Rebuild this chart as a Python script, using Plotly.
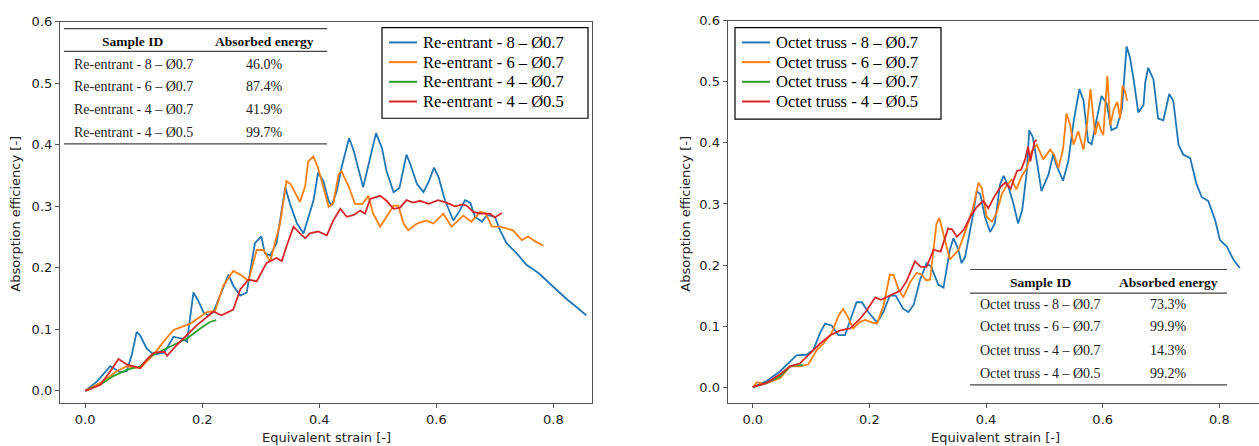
import plotly.graph_objects as go

W, H = 1259, 446

# ---- Re-entrant (left panel) ----
re8_x = [0, 0.02, 0.043, 0.06, 0.071, 0.08, 0.088, 0.094, 0.105, 0.117,
         0.135, 0.151, 0.165, 0.174, 0.185, 0.193, 0.202, 0.21, 0.219, 0.232,
         0.245, 0.253, 0.265, 0.276, 0.29, 0.301, 0.307, 0.316, 0.327, 0.342,
         0.35, 0.362, 0.373, 0.39, 0.398, 0.407, 0.416, 0.421, 0.43, 0.438,
         0.451, 0.459, 0.47, 0.475, 0.487, 0.497, 0.507, 0.515, 0.527, 0.537,
         0.549, 0.555, 0.567, 0.578, 0.587, 0.596, 0.604, 0.615, 0.629, 0.64,
         0.649, 0.658, 0.666, 0.678, 0.687, 0.70, 0.709, 0.72, 0.737, 0.754,
         0.774, 0.789, 0.806, 0.823, 0.84, 0.856]
re8_y = [0, 0.015, 0.04, 0.03, 0.032, 0.06, 0.096, 0.09, 0.069, 0.059,
         0.062, 0.088, 0.085, 0.08, 0.16, 0.147, 0.128, 0.123, 0.128, 0.16,
         0.189, 0.171, 0.155, 0.16, 0.24, 0.251, 0.224, 0.22, 0.24, 0.331,
         0.304, 0.272, 0.256, 0.309, 0.355, 0.341, 0.309, 0.301, 0.325, 0.363,
         0.411, 0.39, 0.347, 0.331, 0.379, 0.419, 0.395, 0.357, 0.323, 0.33,
         0.384, 0.37, 0.336, 0.323, 0.34, 0.363, 0.347, 0.309, 0.277, 0.293,
         0.31, 0.306, 0.283, 0.275, 0.286, 0.283, 0.261, 0.24, 0.224, 0.205,
         0.192, 0.179, 0.163, 0.149, 0.136, 0.123]

re6_x = [0, 0.026, 0.054, 0.071, 0.094, 0.117, 0.134, 0.151, 0.165, 0.179,
         0.196, 0.208, 0.222, 0.236, 0.253, 0.265, 0.279, 0.293, 0.305, 0.316,
         0.333, 0.344, 0.351, 0.367, 0.376, 0.381, 0.39, 0.398, 0.407, 0.416,
         0.424, 0.433, 0.438, 0.45, 0.461, 0.474, 0.484, 0.492, 0.504, 0.515,
         0.527, 0.535, 0.544, 0.552, 0.567, 0.583, 0.595, 0.612, 0.626, 0.646,
         0.66, 0.675, 0.684, 0.695, 0.708, 0.72, 0.731, 0.746, 0.757, 0.769,
         0.783]
re6_y = [0, 0.013, 0.032, 0.04, 0.037, 0.059, 0.08, 0.099, 0.104, 0.109,
         0.12, 0.128, 0.13, 0.171, 0.195, 0.189, 0.179, 0.229, 0.229, 0.21,
         0.272, 0.341, 0.336, 0.307, 0.333, 0.373, 0.381, 0.362, 0.331, 0.299,
         0.305, 0.352, 0.357, 0.333, 0.304, 0.304, 0.317, 0.288, 0.267, 0.283,
         0.301, 0.301, 0.272, 0.261, 0.272, 0.277, 0.272, 0.288, 0.267, 0.285,
         0.275, 0.291, 0.289, 0.267, 0.267, 0.264, 0.261, 0.245, 0.251, 0.243,
         0.236]

re4_x = [0, 0.026, 0.048, 0.071, 0.094, 0.111, 0.128, 0.151, 0.174, 0.196, 0.213, 0.224]
re4_y = [0, 0.01, 0.024, 0.034, 0.04, 0.056, 0.064, 0.075, 0.085, 0.101, 0.112, 0.115]

re45_x = [0, 0.026, 0.043, 0.057, 0.071, 0.094, 0.105, 0.117, 0.135, 0.14,
          0.157, 0.174, 0.191, 0.208, 0.219, 0.233, 0.253, 0.265, 0.279, 0.293,
          0.31, 0.327, 0.336, 0.344, 0.356, 0.367, 0.376, 0.384, 0.398, 0.413,
          0.424, 0.436, 0.447, 0.459, 0.47, 0.478, 0.487, 0.504, 0.515, 0.527,
          0.538, 0.549, 0.56, 0.572, 0.587, 0.603, 0.617, 0.632, 0.645, 0.652,
          0.663, 0.675, 0.692, 0.70, 0.712]
re45_y = [0, 0.01, 0.032, 0.052, 0.043, 0.037, 0.051, 0.062, 0.064, 0.057,
          0.075, 0.091, 0.107, 0.12, 0.129, 0.123, 0.132, 0.165, 0.181, 0.178,
          0.208, 0.216, 0.211, 0.235, 0.267, 0.256, 0.248, 0.256, 0.259, 0.253,
          0.277, 0.296, 0.283, 0.286, 0.293, 0.288, 0.312, 0.317, 0.309, 0.296,
          0.298, 0.31, 0.306, 0.309, 0.304, 0.31, 0.306, 0.3, 0.303, 0.301,
          0.291, 0.288, 0.288, 0.282, 0.289]

# ---- Octet truss (right panel) ----
ot8_x = [0, 0.024, 0.047, 0.064, 0.075, 0.092, 0.104, 0.115, 0.124, 0.135,
         0.147, 0.158, 0.17, 0.178, 0.187, 0.198, 0.213, 0.224, 0.235, 0.245,
         0.258, 0.267, 0.276, 0.287, 0.298, 0.306, 0.318, 0.327, 0.338, 0.344,
         0.352, 0.358, 0.364, 0.373, 0.378, 0.384, 0.39, 0.398, 0.407, 0.415,
         0.424, 0.43, 0.438, 0.447, 0.455, 0.462, 0.47, 0.474, 0.48, 0.487,
         0.495, 0.507, 0.515, 0.52, 0.532, 0.541, 0.55, 0.56, 0.567, 0.575,
         0.581, 0.59, 0.598, 0.607, 0.615, 0.624, 0.633, 0.641, 0.647, 0.653,
         0.661, 0.67, 0.673, 0.678, 0.687, 0.695, 0.704, 0.714, 0.721, 0.73,
         0.738, 0.75, 0.761, 0.77, 0.781, 0.793, 0.801, 0.813, 0.824, 0.835]
ot8_y = [0, 0.01, 0.026, 0.042, 0.052, 0.053, 0.061, 0.088, 0.104, 0.101,
         0.085, 0.085, 0.117, 0.139, 0.139, 0.123, 0.106, 0.123, 0.15, 0.15,
         0.128, 0.123, 0.135, 0.176, 0.203, 0.197, 0.168, 0.163, 0.225, 0.244,
         0.227, 0.203, 0.213, 0.257, 0.284, 0.321, 0.316, 0.279, 0.254, 0.268,
         0.332, 0.346, 0.33, 0.3, 0.268, 0.29, 0.354, 0.421, 0.41, 0.37,
         0.321, 0.348, 0.381, 0.365, 0.338, 0.37, 0.434, 0.488, 0.47, 0.402,
         0.398, 0.44, 0.477, 0.464, 0.421, 0.425, 0.456, 0.558, 0.539, 0.504,
         0.45, 0.462, 0.499, 0.523, 0.504, 0.44, 0.437, 0.48, 0.469, 0.397,
         0.381, 0.375, 0.332, 0.311, 0.305, 0.273, 0.241, 0.23, 0.209, 0.195]

ot6_x = [0, 0.007, 0.02, 0.047, 0.064, 0.081, 0.095, 0.11, 0.121, 0.135,
         0.147, 0.155, 0.163, 0.172, 0.184, 0.193, 0.204, 0.213, 0.224, 0.235,
         0.241, 0.25, 0.258, 0.27, 0.281, 0.29, 0.297, 0.304, 0.315, 0.32,
         0.327, 0.338, 0.353, 0.367, 0.378, 0.387, 0.393, 0.401, 0.41, 0.418,
         0.427, 0.435, 0.444, 0.452, 0.461, 0.47, 0.478, 0.487, 0.498, 0.51,
         0.517, 0.524, 0.532, 0.538, 0.544, 0.55, 0.558, 0.567, 0.573, 0.579,
         0.587, 0.592, 0.597, 0.601, 0.608, 0.613, 0.619, 0.625, 0.63, 0.634,
         0.638, 0.642]
ot6_y = [0, 0.008, 0.005, 0.015, 0.034, 0.034, 0.037, 0.061, 0.071, 0.088,
         0.117, 0.128, 0.115, 0.096, 0.107, 0.11, 0.106, 0.104, 0.133, 0.184,
         0.184, 0.16, 0.147, 0.172, 0.187, 0.184, 0.175, 0.176, 0.268, 0.277,
         0.25, 0.209, 0.225, 0.262, 0.295, 0.335, 0.325, 0.279, 0.271, 0.285,
         0.316, 0.33, 0.34, 0.324, 0.345, 0.359, 0.386, 0.397, 0.373, 0.389,
         0.38, 0.359, 0.39, 0.448, 0.43, 0.397, 0.419, 0.389, 0.43, 0.488,
         0.413, 0.435, 0.42, 0.413, 0.51, 0.429, 0.455, 0.467, 0.44, 0.494,
         0.485, 0.469]

ot4_x = [0, 0.024, 0.047, 0.064, 0.075, 0.087]
ot4_y = [0, 0.007, 0.018, 0.034, 0.036, 0.036]

ot45_x = [0, 0.024, 0.047, 0.064, 0.081, 0.098, 0.115, 0.133, 0.15, 0.167,
          0.184, 0.195, 0.21, 0.22, 0.235, 0.253, 0.264, 0.278, 0.288, 0.298,
          0.31, 0.322, 0.335, 0.342, 0.35, 0.362, 0.373, 0.384, 0.395, 0.404,
          0.413, 0.424, 0.433, 0.442, 0.453, 0.46, 0.467, 0.472, 0.476, 0.483,
          0.487]
ot45_y = [0, 0.007, 0.021, 0.034, 0.039, 0.055, 0.071, 0.085, 0.093, 0.096,
          0.112, 0.125, 0.147, 0.143, 0.15, 0.158, 0.174, 0.206, 0.197, 0.197,
          0.225, 0.222, 0.26, 0.258, 0.246, 0.258, 0.279, 0.295, 0.305, 0.293,
          0.31, 0.327, 0.335, 0.325, 0.354, 0.356, 0.373, 0.394, 0.37, 0.402,
          0.405]

re_names = ['Re-entrant - 8 – Ø0.7', 'Re-entrant - 6 – Ø0.7',
            'Re-entrant - 4 – Ø0.7', 'Re-entrant - 4 – Ø0.5']
ot_names = ['Octet truss - 8 – Ø0.7', 'Octet truss - 6 – Ø0.7',
            'Octet truss - 4 – Ø0.7', 'Octet truss - 4 – Ø0.5']
re_energy = ['46.0%', '87.4%', '41.9%', '99.7%']
ot_energy = ['73.3%', '99.9%', '14.3%', '99.2%']

x_ticks = [0.0, 0.2, 0.4, 0.6, 0.8]
y_ticks = [0.0, 0.1, 0.2, 0.3, 0.4, 0.5, 0.6]

COLORS = ['#1f77b4', '#ff7f0e', '#2ca02c', '#d62728']
TICK_FONT = dict(family='DejaVu Sans', size=13, color='#222')
SERIF = 'Liberation Serif'

re_series = [(re8_x, re8_y), (re6_x, re6_y), (re4_x, re4_y), (re45_x, re45_y)]
ot_series = [(ot8_x, ot8_y), (ot6_x, ot6_y), (ot4_x, ot4_y), (ot45_x, ot45_y)]
for sx, sy in re_series + ot_series:
    assert len(sx) == len(sy)


# pixel -> paper helpers
def pxx(v):
    return v / W


def pxy(v):
    return 1 - v / H


fig = go.Figure()

for (sx, sy), name, c in zip(re_series, re_names, COLORS):
    fig.add_trace(go.Scatter(x=sx, y=sy, mode='lines', name=name,
                             line=dict(color=c, width=1.8),
                             xaxis='x', yaxis='y', showlegend=False))
for (sx, sy), name, c in zip(ot_series, ot_names, COLORS):
    fig.add_trace(go.Scatter(x=sx, y=sy, mode='lines', name=name,
                             line=dict(color=c, width=1.8),
                             xaxis='x2', yaxis='y2', showlegend=False))

axis_common = dict(showgrid=False, zeroline=False, showline=True,
                   linecolor='#555', linewidth=1.2, ticks='outside',
                   ticklen=4, tickcolor='#555', tickfont=TICK_FONT,
                   tickformat='.1f')

shapes = []
annotations = []


def add_legend(x0, y0, x1, y1, names):
    shapes.append(dict(type='rect', xref='paper', yref='paper',
                       x0=pxx(x0), x1=pxx(x1), y0=pxy(y0), y1=pxy(y1),
                       line=dict(color='black', width=1.2),
                       fillcolor='white'))
    for i, (name, c) in enumerate(zip(names, COLORS)):
        yy = y0 + 15 + 20 * i
        shapes.append(dict(type='line', xref='paper', yref='paper',
                           x0=pxx(x0 + 7), x1=pxx(x0 + 35),
                           y0=pxy(yy), y1=pxy(yy),
                           line=dict(color=c, width=2)))
        annotations.append(dict(text=name, xref='paper', yref='paper',
                                x=pxx(x0 + 39), y=pxy(yy), xanchor='left',
                                yanchor='middle', showarrow=False,
                                font=dict(family=SERIF, size=16.5,
                                          color='black')))


def add_table(x0, x1, y_top, y_head_line, y_bottom, y_head, rows_y,
              col1_x, head1_x, col2_x, names, energy):
    for yy in (y_top, y_head_line, y_bottom):
        shapes.append(dict(type='line', xref='paper', yref='paper',
                           x0=pxx(x0), x1=pxx(x1), y0=pxy(yy), y1=pxy(yy),
                           line=dict(color='#444', width=1.2)))
    head_font = dict(family=SERIF, size=13.5, color='#111')
    row_font = dict(family=SERIF, size=14, color='#222')
    annotations.append(dict(text='<b>Sample ID</b>', xref='paper',
                            yref='paper', x=pxx(head1_x), y=pxy(y_head),
                            xanchor='center', yanchor='middle',
                            showarrow=False, font=head_font))
    annotations.append(dict(text='<b>Absorbed energy</b>', xref='paper',
                            yref='paper', x=pxx(col2_x), y=pxy(y_head),
                            xanchor='center', yanchor='middle',
                            showarrow=False, font=head_font))
    for ry, name, en in zip(rows_y, names, energy):
        annotations.append(dict(text=name, xref='paper', yref='paper',
                                x=pxx(col1_x), y=pxy(ry), xanchor='left',
                                yanchor='middle', showarrow=False,
                                font=row_font))
        annotations.append(dict(text=en, xref='paper', yref='paper',
                                x=pxx(col2_x), y=pxy(ry), xanchor='center',
                                yanchor='middle', showarrow=False,
                                font=row_font))


# tables
add_table(64, 327, 22, 45, 139, 35, [58, 81, 104, 127],
          72, 132, 264, re_names, re_energy)
add_table(970, 1227, 266.7, 290.7, 384, 280, [302, 325, 348.5, 372],
          978, 1040, 1168, ot_names, ot_energy)

# legends
add_legend(382, 21, 588, 113, re_names)
add_legend(735, 21, 941, 114, ot_names)

# axis titles
title_font = dict(family='DejaVu Sans', size=13, color='#222')
for cx in (326, 995):
    annotations.append(dict(text='Equivalent strain [-]', xref='paper',
                            yref='paper', x=pxx(cx), y=pxy(437),
                            xanchor='center', yanchor='middle',
                            showarrow=False, font=title_font))
for cx in (16, 686):
    annotations.append(dict(text='Absorption efficiency [-]', xref='paper',
                            yref='paper', x=pxx(cx), y=pxy(210),
                            xanchor='center', yanchor='middle',
                            textangle=-90, showarrow=False,
                            font=title_font))

fig.update_layout(
    width=W, height=H, autosize=False,
    margin=dict(l=0, r=0, t=0, b=0),
    paper_bgcolor='white', plot_bgcolor='white',
    showlegend=False,
    xaxis=dict(domain=[pxx(60), pxx(592)], range=[-0.043, 0.866],
               tickvals=x_ticks, anchor='y', mirror=True, **axis_common),
    yaxis=dict(domain=[pxy(402.5), pxy(15)], range=[-0.02, 0.6],
               tickvals=y_ticks, anchor='x', mirror=True, **axis_common),
    xaxis2=dict(domain=[pxx(727.7), 1.0], range=[-0.043, 0.868],
                tickvals=x_ticks, anchor='y2', mirror=True, **axis_common),
    yaxis2=dict(domain=[pxy(402.3), pxy(14)], range=[-0.026, 0.6],
                tickvals=y_ticks, anchor='x2', mirror=False, **axis_common),
    shapes=shapes,
    annotations=annotations,
)

# page has a default body margin; drop it so the figure sits at the origin
fig.write_html("out.html",
               config={'displayModeBar': False},
               post_script="document.body.style.margin='0';"
                           "document.body.style.overflow='hidden';")
